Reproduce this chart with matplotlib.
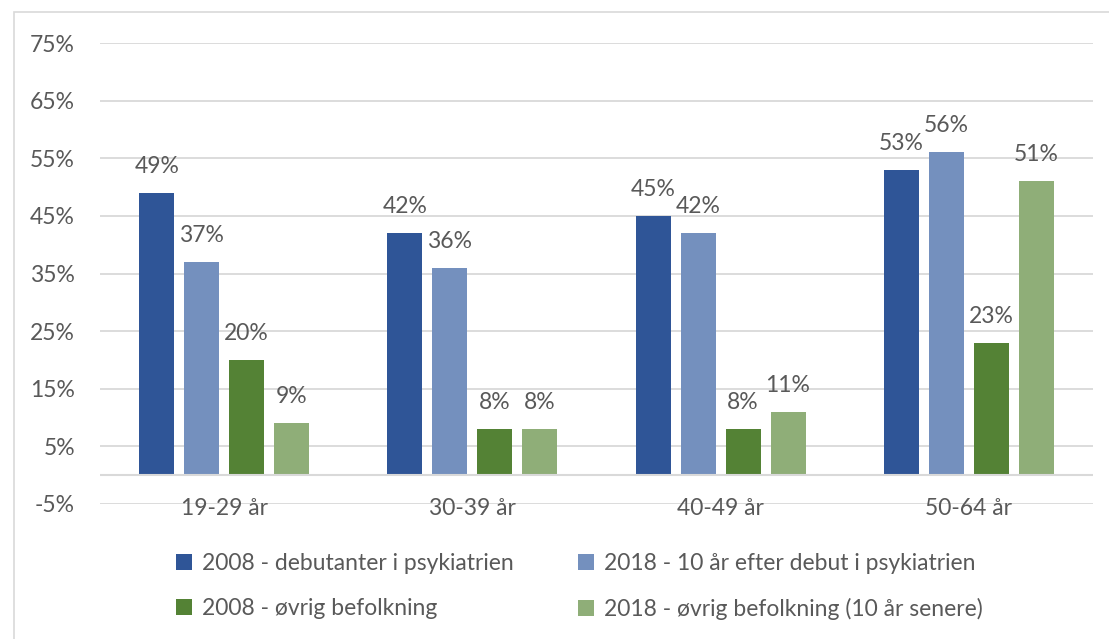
import matplotlib.pyplot as plt
import numpy as np
from matplotlib.patches import Rectangle

plt.rcParams['font.family'] = ['Lato', 'DejaVu Sans']

# --- data ---
categories = ['19-29 år', '30-39 år', '40-49 år', '50-64 år']
series_names = ['2008 - debutanter i psykiatrien',
                '2018 - 10 år efter debut i psykiatrien',
                '2008 - øvrig befolkning',
                '2018 - øvrig befolkning (10 år senere)']
debut_2008 = [49, 42, 45, 53]
debut_2018 = [37, 36, 42, 56]
pop_2008 = [20, 8, 8, 23]
pop_2018 = [9, 8, 11, 51]
y_ticks = [-5, 5, 15, 25, 35, 45, 55, 65, 75]

colors = ['#2F5597', '#7490BE', '#548235', '#8FAE78']
text_col = '#595959'
fs = 16.5

fig = plt.figure(figsize=(11.09, 6.39), dpi=100)
ax = fig.add_axes([100 / 1109, 1 - 504 / 639, 993 / 1109, 461 / 639])

# light outer frame like the Excel chart area
fig.patches.append(Rectangle((14 / 1109, -0.1), 1.2, 1 - 12 / 639 + 0.1,
                             transform=fig.transFigure, fill=False,
                             edgecolor='#D9D9D9', lw=1.2))

x = np.arange(len(categories))
step = 0.181
width = 0.141
all_series = [debut_2008, debut_2018, pop_2008, pop_2018]
for i, (vals, name) in enumerate(zip(all_series, series_names)):
    pos = x + (i - 1.5) * step
    ax.bar(pos, vals, width, color=colors[i], label=name, zorder=2)
    for xp, v in zip(pos, vals):
        ax.text(xp, v + 4.6, f'{v}%', ha='center', va='center',
                fontsize=fs, color=text_col, zorder=5)

ax.set_xlim(-0.5, len(categories) - 0.5)
ax.set_ylim(-5, 75)
ax.set_yticks(y_ticks)
ax.set_yticklabels([f'{t}%' for t in y_ticks])
for t in y_ticks:
    ax.axhline(t, color='#D9D9D9', lw=1.3, zorder=1)
ax.axhline(0, color='#D9D9D9', lw=1.5, zorder=3)

ax.set_xticks([])
for xp, c in zip(x, categories):
    ax.text(xp, -5.7, c, ha='center', va='center', fontsize=fs,
            color=text_col)

ax.tick_params(axis='y', length=0, pad=18, labelsize=fs, labelcolor=text_col)
for s in ax.spines.values():
    s.set_visible(False)

# row-major legend order like the original
handles, labels = ax.get_legend_handles_labels()
order = [0, 2, 1, 3]
fig.legend([handles[k] for k in order], [labels[k] for k in order],
           ncol=2, loc='upper left',
           bbox_to_anchor=(155 / 1109, 1 - 532 / 639),
           frameon=False, fontsize=fs, handlelength=0.7,
           handleheight=0.7, handletextpad=0.45, columnspacing=2.8,
           labelspacing=1.05, labelcolor=text_col)

fig.savefig('out.png', dpi=100)
